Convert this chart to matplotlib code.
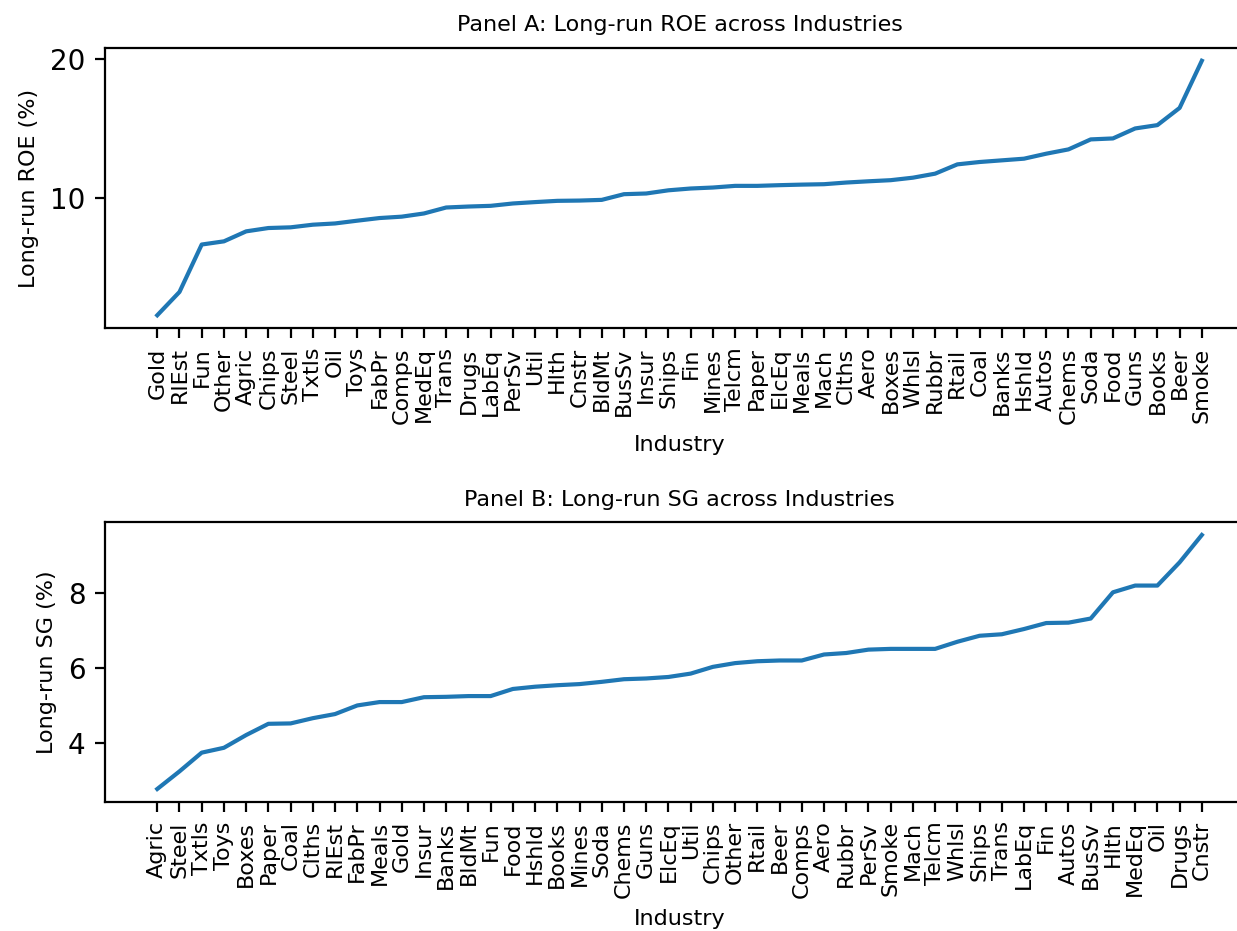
import numpy as np
from matplotlib import pyplot as plt

# Panel A: long-run ROE (%) by industry, sorted
roe_inds = ['Gold', 'RlEst', 'Fun', 'Other', 'Agric', 'Chips', 'Steel', 'Txtls',
            'Oil', 'Toys', 'FabPr', 'Comps', 'MedEq', 'Trans', 'Drugs', 'LabEq',
            'PerSv', 'Util', 'Hlth', 'Cnstr', 'BldMt', 'BusSv', 'Insur', 'Ships',
            'Fin', 'Mines', 'Telcm', 'Paper', 'ElcEq', 'Meals', 'Mach', 'Clths',
            'Aero', 'Boxes', 'Whlsl', 'Rubbr', 'Rtail', 'Coal', 'Banks', 'Hshld',
            'Autos', 'Chems', 'Soda', 'Food', 'Guns', 'Books', 'Beer', 'Smoke']
roe_vals = [1.51, 3.19, 6.61, 6.84, 7.56, 7.80, 7.85, 8.04,
            8.13, 8.33, 8.52, 8.62, 8.85, 9.28, 9.35, 9.40,
            9.57, 9.67, 9.76, 9.78, 9.83, 10.24, 10.29, 10.52,
            10.65, 10.72, 10.84, 10.84, 10.89, 10.93, 10.96, 11.08,
            11.17, 11.25, 11.43, 11.72, 12.39, 12.56, 12.68, 12.80,
            13.16, 13.47, 14.19, 14.26, 14.98, 15.22, 16.46, 19.86]

# Panel B: long-run sales growth (%) by industry, sorted
sg_inds = ['Agric', 'Steel', 'Txtls', 'Toys', 'Boxes', 'Paper', 'Coal', 'Clths',
           'RlEst', 'FabPr', 'Meals', 'Gold', 'Insur', 'Banks', 'BldMt', 'Fun',
           'Food', 'Hshld', 'Books', 'Mines', 'Soda', 'Chems', 'Guns', 'ElcEq',
           'Util', 'Chips', 'Other', 'Rtail', 'Beer', 'Comps', 'Aero', 'Rubbr',
           'PerSv', 'Smoke', 'Mach', 'Telcm', 'Whlsl', 'Ships', 'Trans', 'LabEq',
           'Fin', 'Autos', 'BusSv', 'Hlth', 'MedEq', 'Oil', 'Drugs', 'Cnstr']
sg_vals = [2.77, 3.24, 3.74, 3.87, 4.21, 4.51, 4.52, 4.66,
           4.77, 5.00, 5.09, 5.09, 5.22, 5.23, 5.25, 5.25,
           5.44, 5.50, 5.54, 5.57, 5.63, 5.70, 5.72, 5.76,
           5.85, 6.03, 6.13, 6.18, 6.20, 6.20, 6.36, 6.40,
           6.49, 6.51, 6.51, 6.51, 6.70, 6.86, 6.90, 7.04,
           7.20, 7.21, 7.32, 8.02, 8.20, 8.20, 8.82, 9.55]

fig = plt.figure(figsize=(1237/200, 931/200), dpi=200, facecolor='w')

# top panel
ax1 = fig.add_axes([0.0849, 0.6477, 0.9289, 0.3007])
ax1.plot(roe_inds, roe_vals)
ax1.set_yticks([10, 20])
ax1.tick_params(axis='y', labelsize=10)
ax1.tick_params(axis='x', labelsize=8, labelrotation=90)
ax1.set_title('Panel A: Long-run ROE across Industries', fontsize=8)
ax1.set_xlabel('Industry', fontsize=8)
ax1.set_ylabel('Long-run ROE (%)', fontsize=8)

# bottom panel
ax2 = fig.add_axes([0.0849, 0.1389, 0.9289, 0.3001])
ax2.plot(sg_inds, sg_vals)
ax2.set_yticks([4, 6, 8])
ax2.tick_params(axis='y', labelsize=10)
ax2.tick_params(axis='x', labelsize=8, labelrotation=90)
ax2.set_title('Panel B: Long-run SG across Industries', fontsize=8)
ax2.set_xlabel('Industry', fontsize=8)
ax2.set_ylabel('Long-run SG (%)', fontsize=8)

plt.savefig('out.png', dpi=200)
